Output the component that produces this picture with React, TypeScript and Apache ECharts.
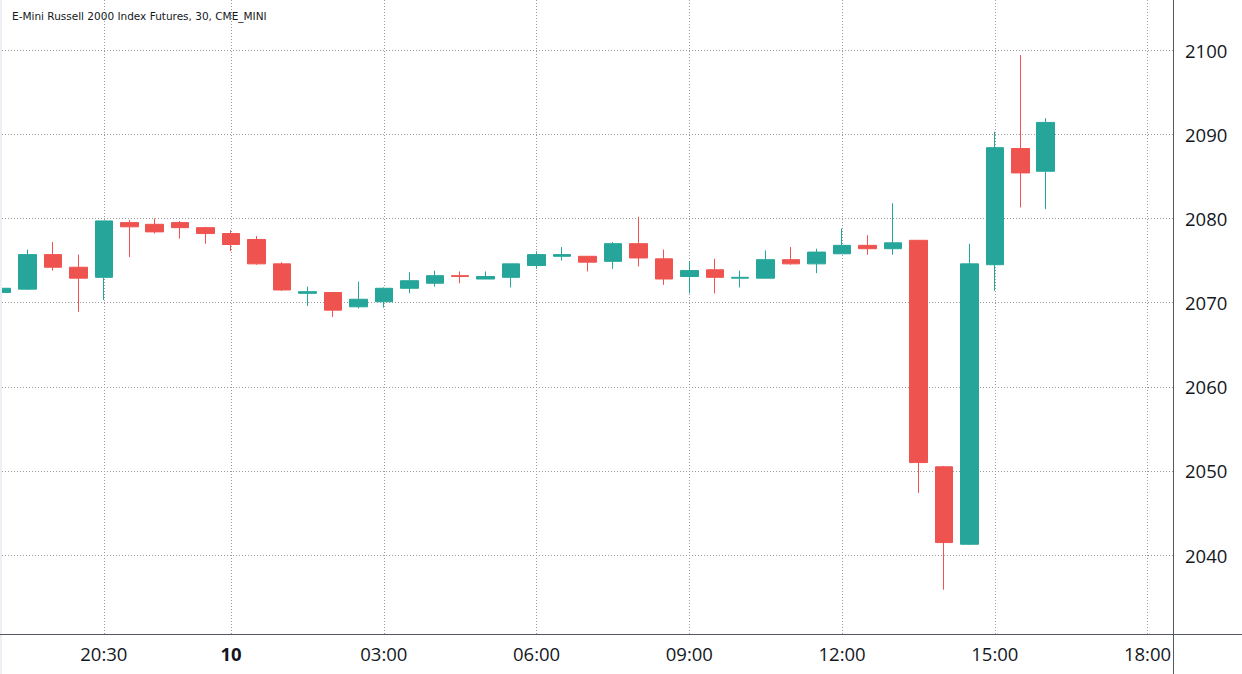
import React, { useEffect, useRef } from "react";
import * as echarts from "echarts";

const TITLE = "E-Mini Russell 2000 Index Futures, 30, CME_MINI";

const times = [
  "18:30", "19:00", "19:30", "20:00", "20:30", "21:00", "21:30", "23:00", "23:30", "10",
  "00:30", "01:00", "01:30", "02:00", "02:30", "03:00", "03:30", "04:00", "04:30", "05:00",
  "05:30", "06:00", "06:30", "07:00", "07:30", "08:00", "08:30", "09:00", "09:30", "10:00",
  "10:30", "11:00", "11:30", "12:00", "12:30", "13:00", "13:30", "14:00", "14:30", "15:00",
  "15:30", "16:00", "16:30", "17:00", "17:30", "18:00", "18:30",
];

const xTickLabels = ["20:30", "10", "03:00", "06:00", "09:00", "12:00", "15:00", "18:00"];

const opens = [
  2071.2, 2071.6, 2075.7, 2074.2, 2073.0, 2079.5, 2079.3, 2079.5, 2078.9, 2078.2,
  2077.5, 2074.6, 2071.1, 2071.2, 2069.5, 2070.1, 2071.7, 2072.3, 2073.2, 2072.8,
  2073.0, 2074.4, 2075.5, 2075.5, 2074.9, 2077.0, 2075.2, 2073.1, 2073.9, 2072.9,
  2072.9, 2075.1, 2074.6, 2075.8, 2076.8, 2076.4, 2077.4, 2050.5, 2041.3, 2074.5,
  2088.3, 2085.6,
];
const closes = [
  2071.7, 2075.7, 2074.2, 2072.9, 2079.7, 2079.0, 2078.4, 2078.9, 2078.2, 2076.9,
  2074.6, 2071.5, 2071.3, 2069.1, 2070.4, 2071.7, 2072.6, 2073.2, 2073.1, 2073.1,
  2074.6, 2075.7, 2075.7, 2074.8, 2077.0, 2075.3, 2072.8, 2073.8, 2073.0, 2073.0,
  2075.1, 2074.6, 2076.0, 2076.8, 2076.4, 2077.1, 2051.0, 2041.5, 2074.6, 2088.4,
  2085.4, 2091.4,
];
const lows = [
  2071.1, 2071.5, 2073.8, 2068.9, 2070.3, 2075.4, 2078.2, 2077.6, 2077.0, 2076.1,
  2074.5, 2071.4, 2069.6, 2068.3, 2069.3, 2069.4, 2071.1, 2071.9, 2072.3, 2072.8,
  2071.8, 2074.0, 2075.0, 2073.7, 2074.0, 2074.3, 2072.1, 2071.1, 2071.1, 2071.8,
  2072.9, 2074.5, 2073.5, 2075.8, 2075.7, 2075.7, 2047.4, 2035.9, 2041.2, 2071.4,
  2081.3, 2081.1,
];
const highs = [
  2071.8, 2076.3, 2077.2, 2075.7, 2079.7, 2079.8, 2080.0, 2079.7, 2079.0, 2078.6,
  2077.9, 2074.8, 2071.9, 2071.2, 2072.5, 2071.8, 2073.6, 2073.8, 2073.7, 2073.7,
  2074.6, 2076.1, 2076.6, 2075.5, 2077.2, 2080.2, 2076.3, 2074.9, 2075.2, 2073.8,
  2076.2, 2076.6, 2076.4, 2078.8, 2078.0, 2081.8, 2077.4, 2050.6, 2077.0, 2090.3,
  2099.4, 2091.9,
];

const Y_MIN = 2030.64;
const Y_MAX = 2105.94;

const UP = "#26a69a";
const DOWN = "#ef5350";
const GRID_COLOR = "#9a9a9a";
const AXIS_COLOR = "#545863";
const TEXT_COLOR = "#131722";
const AXIS_FONT = "Open Sans";

export default function App() {
  const ref = useRef<HTMLDivElement>(null);

  useEffect(() => {
    if (!ref.current) return;
    const chart = echarts.init(ref.current, undefined, { renderer: "svg" });

    const candles = opens.map((o, i) => [o, closes[i], lows[i], highs[i]]);
    const labelIdx = new Set(xTickLabels.map((l) => times.indexOf(l)));

    const W = 1242;
    const H = 674;
    const axisX = 1173;
    const axisY = 634;

    chart.setOption({
      animation: false,
      backgroundColor: "#ffffff",
      grid: { left: 2, right: W - axisX, top: 0, bottom: H - axisY, containLabel: false },
      xAxis: {
        type: "category",
        data: times,
        boundaryGap: false,
        axisLine: { show: false },
        axisTick: { show: false },
        axisLabel: {
          interval: (index: number) => labelIdx.has(index),
          color: TEXT_COLOR,
          fontFamily: AXIS_FONT,
          fontSize: 18.5,
          margin: 10,
          formatter: (v: string) => (v === "10" ? "{b|10}" : v),
          rich: {
            b: { fontWeight: "bold", fontFamily: AXIS_FONT, fontSize: 18.5, color: TEXT_COLOR },
          },
        },
        splitLine: {
          show: true,
          interval: (index: number) => labelIdx.has(index),
          lineStyle: { color: GRID_COLOR, type: [1, 2], width: 1 },
        },
      },
      yAxis: {
        type: "value",
        position: "right",
        min: Y_MIN,
        max: Y_MAX,
        splitNumber: 8,
        scale: true,
        axisLine: { show: false },
        axisTick: { show: false },
        axisLabel: {
          color: TEXT_COLOR,
          fontFamily: AXIS_FONT,
          fontSize: 18.5,
          margin: 12,
          showMinLabel: false,
          showMaxLabel: false,
          formatter: (v: number) => (Math.abs(v - Math.round(v)) < 1e-6 ? String(Math.round(v)) : ""),
        },
        splitLine: {
          show: true,
          showMinLine: false,
          showMaxLine: false,
          lineStyle: { color: GRID_COLOR, type: [1, 2], width: 1 },
        },
      },
      graphic: [
        {
          type: "rect",
          shape: { x: 0, y: 0, width: 2, height: H },
          style: { fill: "#eeeef4" },
          z: 100,
          silent: true,
        },
        {
          type: "line",
          shape: { x1: 0, y1: axisY + 0.5, x2: W, y2: axisY + 0.5 },
          style: { stroke: AXIS_COLOR, lineWidth: 1 },
          z: 100,
          silent: true,
        },
        {
          type: "line",
          shape: { x1: axisX + 0.5, y1: 0, x2: axisX + 0.5, y2: H },
          style: { stroke: AXIS_COLOR, lineWidth: 1 },
          z: 100,
          silent: true,
        },
        {
          type: "text",
          x: 12,
          y: 16,
          style: {
            text: TITLE,
            fill: TEXT_COLOR,
            font: "10.5px 'DejaVu Sans'",
            textVerticalAlign: "middle",
            verticalAlign: "middle",
          },
          z: 100,
          silent: true,
        },
      ],
      series: [
        {
          type: "candlestick",
          data: candles,
          barWidth: 18,
          clip: true,
          itemStyle: {
            color: UP,
            color0: DOWN,
            borderColor: UP,
            borderColor0: DOWN,
            borderWidth: 1,
          },
        },
      ],
    });

    return () => chart.dispose();
  }, []);

  return (
    <div
      ref={ref}
      style={{ position: "absolute", left: 0, top: 0, width: 1242, height: 674 }}
    />
  );
}
